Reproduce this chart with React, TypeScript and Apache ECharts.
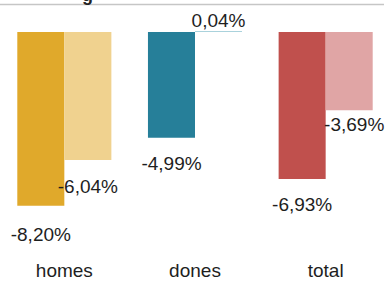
import React, { useEffect, useRef } from "react";
import * as echarts from "echarts";

const categories = ["homes", "dones", "total"];
const valuesA = [-8.2, -4.99, -6.93];
const valuesB = [-6.04, 0.04, -3.69];
const colorsA = ["#E0A92B", "#267F99", "#C0504D"];
const colorsB = ["#F0D28F", "#8EC3D0", "#E0A5A5"];
const labelDistA = [19, 16, 16];
const labelDistB = [17, 1, 5];
const labelOffsetB = [[0, 0], [0, 0], [5, 0]];

const fmt = (v: number) => v.toFixed(2).replace(".", ",") + "%";

export default function App() {
  const ref = useRef<HTMLDivElement>(null);
  useEffect(() => {
    document.body.style.margin = "0";
    const chart = echarts.init(ref.current!, null, { renderer: "svg" });
    const font = "Liberation Sans";
    const mk = (vals: number[], cols: string[], dists: number[], offs?: number[][]) =>
      vals.map((v, i) => ({
        value: v,
        itemStyle: { color: cols[i] },
        label: { distance: dists[i], offset: offs ? offs[i] : [0, 0] },
      }));
    chart.setOption({
      animation: false,
      grid: {
        left: -1,
        width: 392,
        top: 10.8,
        height: 233.2,
        containLabel: false,
        outerBoundsMode: "none",
      },
      xAxis: {
        type: "category",
        data: categories,
        axisLine: { show: false },
        axisTick: { show: false },
        axisLabel: { fontSize: 19, color: "#1e1e1e", fontFamily: font, margin: 17 },
      },
      yAxis: {
        type: "value",
        min: -10,
        max: 1,
        show: false,
        splitLine: { show: false },
      },
      series: [
        {
          type: "bar",
          data: mk(valuesA, colorsA, labelDistA),
          barGap: "0%",
          barCategoryGap: "28%",
          label: {
            show: true,
            position: "outside",
            fontSize: 19,
            color: "#1e1e1e",
            fontFamily: font,
            formatter: (p: any) => fmt(p.value),
          },
        },
        {
          type: "bar",
          data: mk(valuesB, colorsB, labelDistB, labelOffsetB),
          barGap: "0%",
          barCategoryGap: "28%",
          z: 3,
          label: {
            show: true,
            position: "outside",
            fontSize: 19,
            color: "#1e1e1e",
            fontFamily: font,
            formatter: (p: any) => fmt(p.value),
          },
        },
      ],
      graphic: [
        {
          type: "line",
          shape: { x1: 0, y1: 4.5, x2: 384, y2: 4.5 },
          style: { stroke: "#c6c6c6", lineWidth: 1.5 },
        },
        {
          type: "text",
          x: 82,
          y: 4,
          style: {
            text: "g",
            fontSize: 18,
            fontWeight: "bold",
            fontFamily: font,
            fill: "#222",
            textVerticalAlign: "bottom",
          },
        },
      ],
    });
    return () => chart.dispose();
  }, []);
  return <div ref={ref} style={{ width: 385, height: 281 }} />;
}
